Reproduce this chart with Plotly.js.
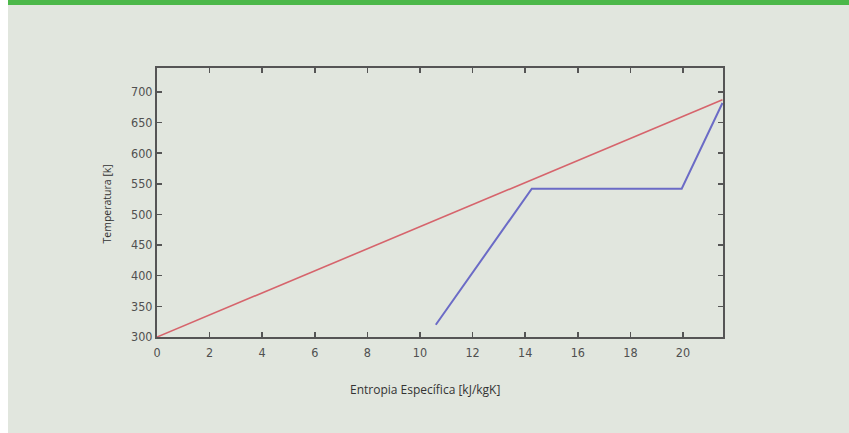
<!DOCTYPE html>
<html>
<head>
<meta charset="utf-8">
<script src="https://cdn.plot.ly/plotly-3.0.1.min.js"></script>
<style>
html,body{margin:0;padding:0;width:849px;height:433px;overflow:hidden;background:#ffffff;}
#wrap{position:absolute;left:8px;top:0;width:841px;height:433px;background:#e1e6de;}
#bar{position:absolute;left:8px;top:0;width:841px;height:5px;background:#4cb84a;}
#chart{position:absolute;left:0;top:0;width:849px;height:433px;}
</style>
</head>
<body>
<div id="wrap"></div>
<div id="bar"></div>
<div id="chart"></div>
<script>
// Data
const redEntropy = [0, 21.5];
const redTemp = [300, 687];
const blueEntropy = [10.6, 14.25, 19.95, 21.5];
const blueTemp = [320, 542, 542, 682];
const xTicks = [0, 2, 4, 6, 8, 10, 12, 14, 16, 18, 20];
const yTicks = [300, 350, 400, 450, 500, 550, 600, 650, 700];
const xLabel = 'Entropia Específica [kJ/kgK]';
const yLabel = 'Temperatura [k]';

const traces = [
  {x: redEntropy, y: redTemp, mode: 'lines', line: {color: '#d6646c', width: 1.6}, hoverinfo: 'skip'},
  {x: blueEntropy, y: blueTemp, mode: 'lines', line: {color: '#6b6bc6', width: 2}, hoverinfo: 'skip'}
];

const tickFont = {family: 'DejaVu Sans Condensed, DejaVu Sans', size: 12.5, color: '#505050'};
const W = 849, H = 433, L = 157, R = 126, T = 68, B = 96;
const pw = W - L - R, ph = H - T - B;
const layout = {
  width: W, height: H,
  margin: {l: L, r: R, t: T, b: B},
  paper_bgcolor: 'rgba(0,0,0,0)',
  plot_bgcolor: 'rgba(0,0,0,0)',
  showlegend: false,
  xaxis: {
    range: [0, 21.52], tickvals: xTicks, ticktext: xTicks.map(String),
    ticks: 'inside', ticklen: 5, tickwidth: 1.5, tickcolor: '#555',
    showline: true, linecolor: '#555', linewidth: 2, mirror: 'ticks',
    showgrid: false, zeroline: false, tickfont: tickFont, ticklabelstandoff: 3
  },
  yaxis: {
    range: [300, 739], tickvals: yTicks, ticktext: yTicks.map(String),
    ticks: 'inside', ticklen: 5, tickwidth: 1.5, tickcolor: '#555',
    showline: true, linecolor: '#555', linewidth: 2, mirror: 'ticks',
    showgrid: false, zeroline: false, tickfont: tickFont
  },
  annotations: [
    {text: xLabel, xref: 'paper', yref: 'paper', x: (425 - L) / pw, y: (H - B - 389) / ph,
     xanchor: 'center', yanchor: 'middle', showarrow: false,
     font: {family: 'Open Sans', size: 12, color: '#333'}},
    {text: yLabel, xref: 'paper', yref: 'paper', x: (106.5 - L) / pw, y: (H - B - 204) / ph,
     xanchor: 'center', yanchor: 'middle', showarrow: false, textangle: -90,
     font: {family: 'Open Sans', size: 10.5, color: '#333'}}
  ]
};
Plotly.newPlot('chart', traces, layout, {displayModeBar: false, staticPlot: true});
</script>
</body>
</html>
